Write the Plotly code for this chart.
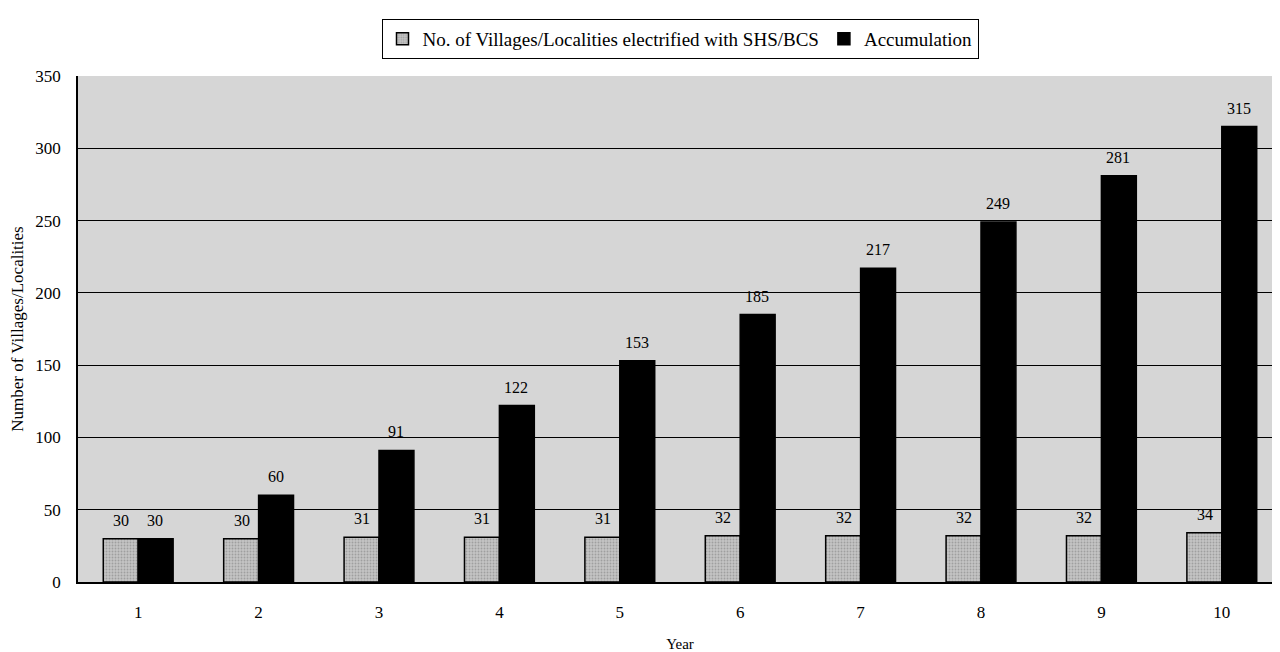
import plotly.graph_objects as go

years = list(range(1, 11))
annual = [30, 30, 31, 31, 31, 32, 32, 32, 32, 34]
accum = [30, 60, 91, 122, 153, 185, 217, 249, 281, 315]
yticks = [0, 50, 100, 150, 200, 250, 300, 350]

font = "Liberation Serif"

fig = go.Figure()
fig.add_trace(go.Bar(
    x=years, y=annual, name="No. of Villages/Localities electrified with SHS/BCS",
    marker=dict(color="#b8b8b8", line=dict(color="black", width=1.5),
                pattern=dict(shape=".", fgcolor="#7a7a7a", bgcolor="#c4c4c4", size=3, solidity=0.3)),
))
fig.add_trace(go.Bar(
    x=years, y=accum, name="Accumulation",
    marker=dict(color="black", line=dict(color="black", width=1.5)),
))

# value labels above bars
for yr, a, c in zip(years, annual, accum):
    fig.add_annotation(x=yr, y=a, text=str(a), showarrow=False, xshift=-17, yshift=8,
                       yanchor="bottom", font=dict(family=font, size=16, color="black"))
    fig.add_annotation(x=yr, y=c, text=str(c), showarrow=False, xshift=17, yshift=8,
                       yanchor="bottom", font=dict(family=font, size=16, color="black"))

fig.update_layout(
    width=1276, height=644,
    margin=dict(l=70, r=2, t=68, b=70),
    barmode="group", bargap=0.42, bargroupgap=0,
    paper_bgcolor="white", plot_bgcolor="#d6d6d6",
    font=dict(family=font, size=16, color="black"),
    legend=dict(orientation="h", x=0.5, xanchor="center", y=1.113, yanchor="top",
                bordercolor="black", borderwidth=1, bgcolor="white",
                font=dict(family=font, size=19), itemwidth=30, tracegroupgap=0),
    xaxis=dict(title=dict(text="Year", font=dict(family=font, size=15), standoff=18),
               range=[0.5, 10.5], tickvals=years, ticktext=[str(y) for y in years],
               showline=True, linecolor="black", linewidth=2, ticks="", showgrid=False,
               zeroline=False, tickfont=dict(family=font, size=17), ticklabelstandoff=14,
               automargin=False),
    yaxis=dict(title=dict(text="Number of Villages/Localities", font=dict(family=font, size=17), standoff=14),
               range=[0, 350], tickvals=yticks, showline=True, linecolor="black", linewidth=1.5,
               gridcolor="black", gridwidth=1, ticks="", zeroline=False,
               tickfont=dict(family=font, size=17), ticklabelstandoff=12, automargin=False),
    showlegend=True,
)

fig.write_html("out.html")
